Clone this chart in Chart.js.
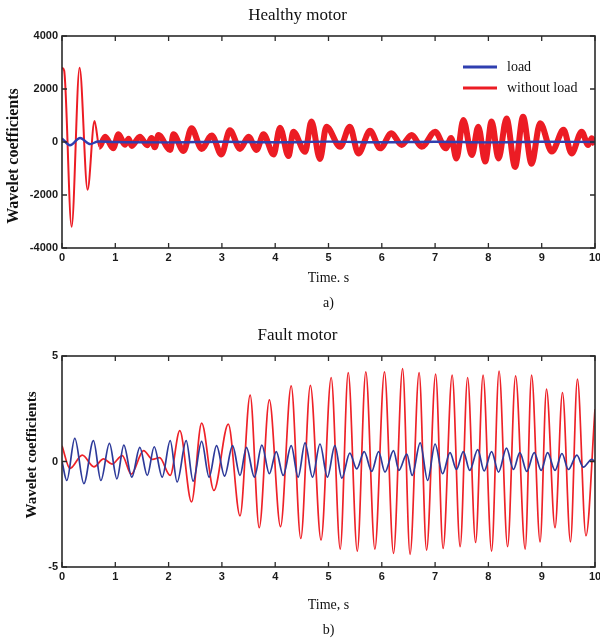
<!DOCTYPE html>
<html>
<head>
<meta charset="utf-8">
<script src="https://cdn.jsdelivr.net/npm/chart.js@4.4.0/dist/chart.umd.min.js"></script>
<style>
    html, body { margin: 0; padding: 0; background: #fff; width: 600px; height: 639px; overflow: hidden; }
    #healthyChart { position: absolute; left: 0; top: 0; }
    #faultChart { position: absolute; left: 0; top: 320px; }
</style>
</head>
<body>
<canvas id="healthyChart" width="600" height="320"></canvas>
<canvas id="faultChart" width="600" height="330"></canvas>
<script>
// Eixo de tempo e ticks
const timeTicks = [0, 1, 2, 3, 4, 5, 6, 7, 8, 9, 10];
const healthyYTicks = [-4000, -2000, 0, 2000, 4000];
const faultYTicks = [-5, 0, 5];

// a) Healthy motor - load (azul)
const healthyLoadTime  = [0, 0.15, 0.34, 0.53, 0.68, 1.0, 2.0, 3.0, 4.0, 5.0, 6.0, 7.0, 8.0, 9.0, 10.0];
const healthyLoadValue = [140, -120, 150, -80, 20, 0, -15, 10, -10, 15, -10, 10, -15, 10, 0];

// a) Healthy motor - without load (vermelho)
const healthyNoLoadTime = [
    0, 0.04, 0.18, 0.33, 0.48, 0.61, 0.70, 0.81, 0.96, 1.06,
    1.18, 1.25, 1.31, 1.46, 1.60, 1.68, 1.74, 1.81, 2.03, 2.09,
    2.28, 2.43, 2.62, 2.81, 2.99, 3.15, 3.34, 3.50, 3.65, 3.78,
    3.97, 4.09, 4.25, 4.34, 4.56, 4.68, 4.84, 4.96, 5.22, 5.40,
    5.56, 5.78, 5.97, 6.18, 6.37, 6.56, 6.75, 7.00, 7.20, 7.30,
    7.40, 7.53, 7.69, 7.81, 7.94, 8.06, 8.19, 8.34, 8.50, 8.65,
    8.81, 8.97, 9.19, 9.41, 9.56, 9.75, 9.87, 9.94, 10.0
];
const healthyNoLoadValue = [
    2800, 2700, -3200, 2800, -1800, 790, -180, 200, -240, 290,
    -100, 120, -150, 200, -120, 150, -200, 260, -300, 290,
    -340, 520, -260, 250, -470, 440, -260, 200, -300, 290,
    -470, 540, -530, 390, -370, 770, -640, 580, -180, 580,
    -430, 420, -240, 330, -110, 260, -180, 390, -240, 150,
    -620, 830, -490, 580, -740, 770, -620, 890, -940, 950,
    -820, 710, -360, 460, -430, 390, -110, 140, -100
];

// b) Fault motor - load (azul)
const faultLoadTime = [
    0, 0.09, 0.24, 0.41, 0.59, 0.73, 0.89, 1.03, 1.16, 1.31,
    1.46, 1.60, 1.73, 1.88, 2.03, 2.16, 2.33, 2.46, 2.62, 2.76,
    2.90, 3.05, 3.20, 3.34, 3.46, 3.61, 3.75, 3.89, 4.02, 4.15,
    4.30, 4.43, 4.56, 4.70, 4.84, 4.98, 5.12, 5.25, 5.40, 5.53,
    5.67, 5.81, 5.94, 6.06, 6.22, 6.32, 6.47, 6.57, 6.72, 6.86,
    7.00, 7.14, 7.28, 7.40, 7.53, 7.65, 7.80, 7.92, 8.06, 8.19,
    8.34, 8.47, 8.59, 8.72, 8.86, 8.99, 9.11, 9.25, 9.38, 9.50,
    9.66, 9.78, 9.94, 10.0
];
const faultLoadValue = [
    0, -0.90, 1.10, -1.05, 0.99, -0.90, 0.86, -0.82, 0.78, -0.74,
    0.67, -0.66, 0.70, -0.74, 0.99, -0.97, 0.99, -0.93, 0.95, -0.74,
    0.75, -0.69, 0.75, -0.66, 0.67, -0.74, 0.78, -0.58, 0.47, -0.66,
    0.75, -0.74, 0.88, -0.74, 0.83, -0.74, 0.75, -0.79, 0.40, -0.35,
    0.47, -0.47, 0.47, -0.50, 0.52, -0.42, 0.35, -0.66, 0.88, -0.90,
    0.83, -0.58, 0.42, -0.38, 0.47, -0.42, 0.56, -0.45, 0.47, -0.50,
    0.63, -0.38, 0.42, -0.47, 0.42, -0.42, 0.42, -0.42, 0.38, -0.38,
    0.30, -0.27, 0.10, -0.02
];

// b) Fault motor - without load (vermelho)
const faultNoLoadTime = [
    0, 0.15, 0.38, 0.60, 0.78, 0.94, 1.13, 1.30, 1.53, 1.70,
    1.83, 2.03, 2.21, 2.43, 2.62, 2.85, 3.12, 3.34, 3.53, 3.70,
    3.89, 4.10, 4.30, 4.48, 4.66, 4.86, 5.05, 5.22, 5.37, 5.54,
    5.70, 5.87, 6.05, 6.22, 6.39, 6.53, 6.70, 6.84, 7.01, 7.15,
    7.32, 7.47, 7.61, 7.76, 7.90, 8.06, 8.20, 8.36, 8.51, 8.69,
    8.81, 8.97, 9.09, 9.25, 9.39, 9.54, 9.67, 9.83, 10.0
];
const faultNoLoadValue = [
    0.75, -0.33, 0.30, -0.25, 0.12, -0.12, 0.28, -0.60, 0.52, 0.10,
    0.18, -0.66, 1.46, -1.92, 1.82, -1.37, 1.77, -2.58, 3.15, -3.14,
    2.92, -3.09, 3.58, -3.65, 3.61, -3.72, 3.98, -4.15, 4.21, -4.25,
    4.25, -4.15, 4.25, -4.35, 4.40, -4.40, 4.21, -4.20, 4.14, -4.12,
    4.09, -4.04, 3.98, -3.84, 4.09, -4.25, 4.29, -4.04, 4.06, -4.15,
    4.09, -3.81, 3.43, -3.14, 3.27, -3.81, 3.90, -3.52, 2.48
];

const toPoints = (ts, vs) => ts.map((t, i) => ({ x: t, y: vs[i] }));

Chart.defaults.font.family = '"Liberation Sans", Arial, sans-serif';
Chart.defaults.color = '#1a1a1a';

// Moldura estilo MATLAB, ticks para dentro, titulo do eixo Y e legenda
const framePlugin = {
    id: 'frame',
    afterDatasetsDraw(chart, args, opts) {
        const { ctx, chartArea: a, scales } = chart;
        const x = scales.x, y = scales.y;
        ctx.save();
        ctx.strokeStyle = '#2b2b2b';
        ctx.lineWidth = 1.6;
        ctx.strokeRect(a.left, a.top, a.right - a.left, a.bottom - a.top);
        ctx.lineWidth = 1.3;
        ctx.beginPath();
        x.ticks.forEach(t => {
            const px = x.getPixelForValue(t.value);
            ctx.moveTo(px, a.bottom); ctx.lineTo(px, a.bottom - 5);
            ctx.moveTo(px, a.top); ctx.lineTo(px, a.top + 5);
        });
        y.ticks.forEach(t => {
            const py = y.getPixelForValue(t.value);
            ctx.moveTo(a.left, py); ctx.lineTo(a.left + 5, py);
            ctx.moveTo(a.right, py); ctx.lineTo(a.right - 5, py);
        });
        ctx.stroke();

        // titulo do eixo Y
        ctx.save();
        ctx.fillStyle = '#111';
        ctx.font = opts.yTitleFont;
        ctx.textAlign = 'center';
        ctx.textBaseline = 'middle';
        ctx.translate(opts.yTitleX, opts.yTitleY);
        ctx.rotate(-Math.PI / 2);
        ctx.fillText(opts.yTitle, 0, 0);
        ctx.restore();

        // legenda dentro da area do grafico
        if (opts.legend) {
            const L = opts.legend;
            chart.data.datasets.forEach((ds, i) => {
                const ly = L.y + i * L.gap;
                ctx.strokeStyle = ds.borderColor;
                ctx.lineWidth = 3;
                ctx.beginPath();
                ctx.moveTo(L.x, ly);
                ctx.lineTo(L.x + L.len, ly);
                ctx.stroke();
                ctx.fillStyle = '#111';
                ctx.font = L.font;
                ctx.textAlign = 'left';
                ctx.textBaseline = 'middle';
                ctx.fillText(ds.label, L.x + L.len + 10, ly);
            });
        }
        ctx.restore();
    }
};

function scaleX(axisHeight, titleLines, titlePad) {
    return {
        type: 'linear',
        min: 0,
        max: 10,
        afterBuildTicks: s => { s.ticks = timeTicks.map(v => ({ value: v })); },
        afterFit: s => {
            s.height = axisHeight;
            s.paddingLeft = 0;
            s.paddingRight = 5;
        },
        grid: { display: false, drawTicks: false },
        border: { display: false },
        ticks: { padding: 3, font: { size: 11, weight: 'bold' }, color: '#1a1a1a' },
        title: {
            display: true,
            text: titleLines,
            font: { family: '"Liberation Serif", "Times New Roman", serif', size: 14, lineHeight: 25 / 14 },
            color: '#111',
            padding: { top: 0, bottom: titlePad }
        }
    };
}

function scaleY(min, max, tickList) {
    return {
        type: 'linear',
        min: min,
        max: max,
        afterBuildTicks: s => { s.ticks = tickList.map(v => ({ value: v })); },
        afterFit: s => { s.width = 62; },
        grid: { display: false, drawTicks: false },
        border: { display: false },
        ticks: { padding: 4, font: { size: 11, weight: 'bold' }, color: '#1a1a1a', callback: v => String(v) }
    };
}

const titleFont = { family: '"Liberation Serif", "Times New Roman", serif', size: 17, weight: 'normal' };

// a) Healthy motor
new Chart(document.getElementById('healthyChart').getContext('2d'), {
    type: 'line',
    data: {
        datasets: [{
            label: 'load',
            data: toPoints(healthyLoadTime, healthyLoadValue),
            borderColor: '#2f3fb0',
            borderWidth: 2.4,
            pointRadius: 0,
            cubicInterpolationMode: 'monotone'
        }, {
            label: 'without load',
            data: toPoints(healthyNoLoadTime, healthyNoLoadValue),
            borderColor: '#ec1c24',
            borderWidth: 6,
            pointRadius: 0,
            cubicInterpolationMode: 'monotone',
            segment: { borderWidth: c => (c.p0.parsed.x < 0.65 ? 2 : 6) }
        }]
    },
    options: {
        responsive: false,
        animation: false,
        layout: { padding: { left: 0, right: 5, top: 0, bottom: 0 } },
        scales: {
            x: scaleX(72, ['Time. s', 'a)'], 4.5),
            y: scaleY(-4000, 4000, healthyYTicks)
        },
        plugins: {
            legend: { display: false },
            tooltip: { enabled: false },
            title: { display: true, text: 'Healthy motor', font: titleFont, color: '#111', padding: { top: 5, bottom: 10.6 } },
            frame: {
                yTitle: 'Wavelet coefficients',
                yTitleFont: 'bold 16px "Liberation Serif", serif',
                yTitleX: 14,
                yTitleY: 156,
                legend: { x: 463, y: 67, gap: 21, len: 34, font: '14px "Liberation Serif", serif' }
            }
        }
    },
    plugins: [framePlugin]
});

// b) Fault motor
new Chart(document.getElementById('faultChart').getContext('2d'), {
    type: 'line',
    data: {
        datasets: [{
            label: 'load',
            data: toPoints(faultLoadTime, faultLoadValue),
            borderColor: '#2d3a9a',
            borderWidth: 1.7,
            pointRadius: 0,
            cubicInterpolationMode: 'monotone'
        }, {
            label: 'without load',
            data: toPoints(faultNoLoadTime, faultNoLoadValue),
            borderColor: '#ee2228',
            borderWidth: 1.7,
            pointRadius: 0,
            cubicInterpolationMode: 'monotone'
        }]
    },
    options: {
        responsive: false,
        animation: false,
        layout: { padding: { left: 0, right: 5, top: 0, bottom: 0 } },
        scales: {
            x: scaleX(83, ['Time, s', 'b)'], 7.5),
            y: scaleY(-5, 5, faultYTicks)
        },
        plugins: {
            legend: { display: false },
            tooltip: { enabled: false },
            title: { display: true, text: 'Fault motor', font: titleFont, color: '#111', padding: { top: 5, bottom: 10.6 } },
            frame: {
                yTitle: 'Wavelet coefficients',
                yTitleFont: 'bold 15px "Liberation Serif", serif',
                yTitleX: 32,
                yTitleY: 135
            }
        }
    },
    plugins: [framePlugin]
});
</script>
</body>
</html>
